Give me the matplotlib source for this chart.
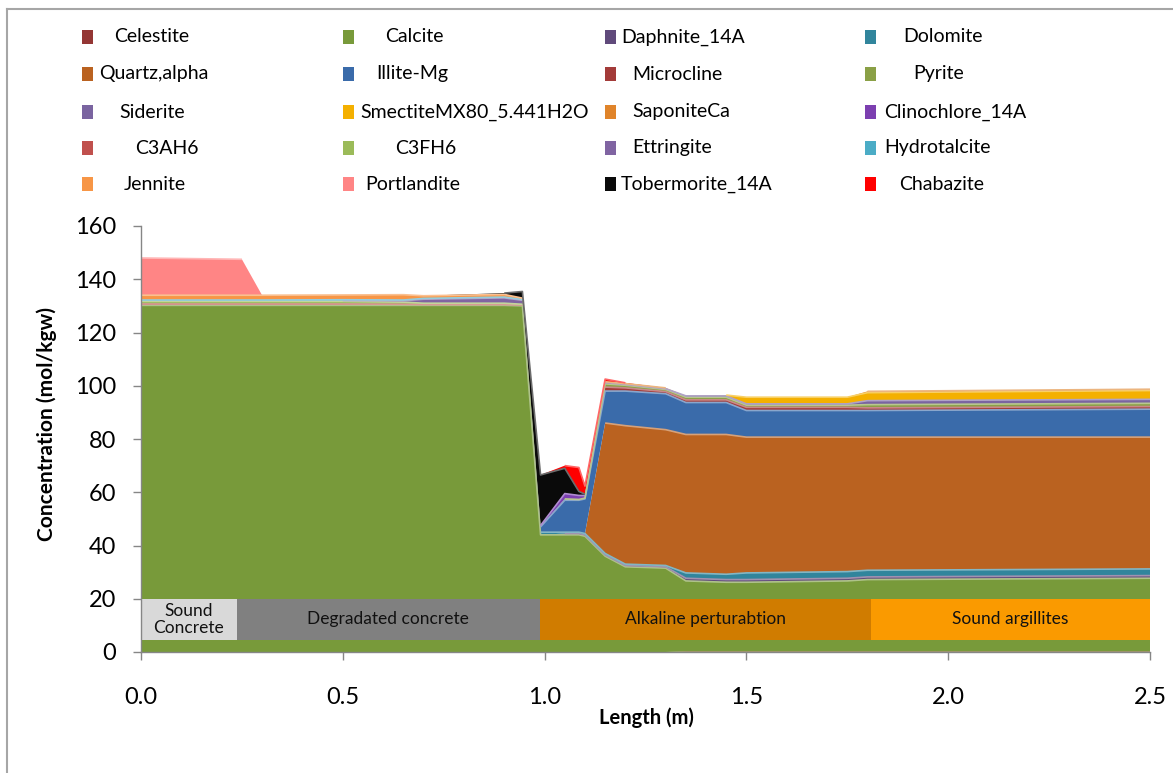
import numpy as np
import matplotlib
matplotlib.use("Agg")
import matplotlib.pyplot as plt
from matplotlib.patches import Rectangle
from matplotlib.lines import Line2D

plt.rcParams['font.family'] = ['Lato', 'DejaVu Sans']

# ---------------- data ----------------
length_m = [0.0, 0.25, 0.30, 0.50, 0.65, 0.70, 0.90, 0.945, 0.99, 1.05, 1.085,
            1.10, 1.15, 1.20, 1.30, 1.35, 1.45, 1.50, 1.75, 1.80, 2.50]

celestite   = [0, 0, 0, 0, 0, 0, 0, 0, 0, 0, 0, 0, 0, 0, 0, 0.2, 0.2, 0.2, 0.2, 0.2, 0.2]
calcite     = [130.2, 130.2, 130.2, 130.2, 130.2, 130.2, 130.2, 130.0, 44, 44, 44,
               43.5, 36, 32, 31.5, 26.5, 26, 26, 26.5, 27, 27.5]
daphnite    = [0, 0, 0, 0, 0, 0, 0, 0, 0, 0.5, 0.5, 0.5, 0.5, 0.5, 0.5, 1, 1, 1, 1, 1, 1]
dolomite    = [0, 0, 0, 0, 0, 0, 0, 0, 1, 0.5, 0.5, 0.5, 0.5, 0.5, 0.5, 2, 2, 2.5, 2.5, 2.5, 2.5]
quartz      = [0, 0, 0, 0, 0, 0, 0, 0, 0, 0, 0, 0, 49, 52, 51, 52, 52.5, 51, 50.5, 50, 49.5]
illite      = [0, 0, 0, 0, 0, 0, 0, 0, 2, 12, 12, 13, 12, 13, 13.5, 12, 12, 10, 10, 10, 10.5]
microcline  = [0, 0, 0, 0, 0, 0, 0, 0, 0, 0, 0, 0, 1.5, 1.2, 0.8, 1, 1, 1.2, 1.2, 1, 1]
pyrite      = [0, 0, 0, 0, 0, 0, 0, 0, 0, 0.5, 0.3, 0.3, 1.2, 1, 0.8, 1, 1, 0.8, 0.8, 1.2, 1.2]
siderite    = [0, 0, 0, 0, 0, 0, 0, 0, 0, 0, 0, 0, 0.5, 0.3, 0.3, 0.5, 0.5, 0.5, 0.5, 1.5, 1.5]
smectite    = [0, 0, 0, 0, 0, 0, 0, 0, 0, 0, 0, 0, 0, 0, 0, 0, 0.3, 2.5, 2.5, 3, 3.3]
saponite    = [0, 0, 0, 0, 0, 0, 0, 0, 0, 0, 0, 0, 0.3, 0.3, 0.3, 0, 0, 0, 0, 0.5, 0.5]
clinochlore = [0, 0, 0, 0, 0, 0, 0, 0, 0.5, 2, 1.5, 1, 0, 0, 0, 0, 0, 0, 0, 0, 0]
c3ah6       = [0.5, 0.5, 0.5, 0.5, 0.4, 0.3, 0.3, 0.3, 0, 0, 0, 0, 0, 0, 0, 0, 0, 0, 0, 0, 0]
c3fh6       = [1, 1, 1, 1, 0.8, 0.5, 0.5, 0.3, 0, 0, 0, 0, 0, 0, 0, 0, 0, 0, 0, 0, 0]
ettringite  = [0.2, 0.2, 0.2, 0.3, 0.5, 1.5, 2, 1.5, 0, 0, 0, 0, 0, 0, 0, 0, 0, 0, 0, 0, 0]
hydrotalcite = [0.3, 0.3, 0.3, 0.3, 0.3, 0.3, 0.3, 0.3, 0, 0, 0, 0, 0, 0, 0, 0, 0, 0, 0, 0, 0]
jennite     = [1.8, 1.8, 1.8, 1.8, 2, 1, 1, 0.5, 0, 0, 0, 0, 0, 0, 0, 0, 0, 0, 0, 0, 0]
portlandite = [14, 13.5, 0, 0, 0, 0, 0, 0, 0, 0, 0, 0, 0, 0, 0, 0, 0, 0, 0, 0, 0]
tobermorite = [0, 0, 0, 0, 0, 0, 0.5, 2.5, 19, 9.5, 1.5, 0.5, 0, 0, 0, 0, 0, 0, 0, 0, 0]
chabazite   = [0, 0, 0, 0, 0, 0, 0, 0, 0, 1.0, 9, 3, 1, 0.3, 0, 0, 0, 0, 0, 0, 0]

mineral_names = ["Celestite", "Calcite", "Daphnite_14A", "Dolomite",
                 "Quartz,alpha", "Illite-Mg", "Microcline", "Pyrite",
                 "Siderite", "SmectiteMX80_5.441H2O", "SaponiteCa", "Clinochlore_14A",
                 "C3AH6", "C3FH6", "Ettringite", "Hydrotalcite",
                 "Jennite", "Portlandite", "Tobermorite_14A", "Chabazite"]
mineral_values = [celestite, calcite, daphnite, dolomite, quartz, illite, microcline,
                  pyrite, siderite, smectite, saponite, clinochlore, c3ah6, c3fh6,
                  ettringite, hydrotalcite, jennite, portlandite, tobermorite, chabazite]
mineral_colors = ["#943634", "#789A3A", "#604A7B", "#31859C",
                  "#BA6220", "#3A6BAA", "#A33B39", "#8AA046",
                  "#7A64A0", "#F4B000", "#E0842A", "#7C3FB0",
                  "#C0504D", "#9BBB59", "#8064A2", "#4BACC6",
                  "#F79646", "#FF8585", "#0A0A0A", "#FF0000"]

zone_edges = [0.0, 0.237, 0.989, 1.809, 2.5]
zone_labels = ["Sound\nConcrete", "Degradated concrete", "Alkaline perturabtion", "Sound argillites"]
zone_colors = ["#D9D9D9", "#808080", "#D07C00", "#FA9A00"]
zone_bottom, zone_top = 4.5, 20

# ---------------- figure ----------------
W, H = 1173, 773
fig = plt.figure(figsize=(W / 100, H / 100), dpi=100)
fig.patch.set_facecolor("white")

def fx(px):
    return px / W

def fy(py):
    return 1 - py / H

ax = fig.add_axes([fx(141), fy(652), fx(1150) - fx(141), fy(226) - fy(652)])

x = np.array(length_m)
ax.stackplot(x, *[np.array(v) for v in mineral_values], colors=mineral_colors,
             linewidth=0, zorder=2)

# light top edge (bevel look)
cum = np.zeros_like(x)
for vals, col in zip(mineral_values, mineral_colors):
    v = np.array(vals, dtype=float)
    top = cum + v
    rgb = np.array(matplotlib.colors.to_rgb(col))
    light = 1 - (1 - rgb) * 0.6
    mask = np.where(v > 0.2, top, np.nan)
    ax.plot(x, mask, color=light, lw=1.2, zorder=3, solid_capstyle='butt')
    cum = top

# zone bands
for i, lab in enumerate(zone_labels):
    x0, x1 = zone_edges[i], zone_edges[i + 1]
    ax.add_patch(Rectangle((x0, zone_bottom), x1 - x0, zone_top - zone_bottom,
                           facecolor=zone_colors[i], edgecolor="none", zorder=5))
    ax.text((x0 + x1) / 2, (zone_bottom + zone_top) / 2, lab, ha="center", va="center",
            fontsize=12.5, color="#111111", zorder=6, linespacing=1.05)

ax.set_xlim(0, 2.5)
ax.set_ylim(0, 160)
ax.set_xticks([0, 0.5, 1.0, 1.5, 2.0, 2.5])
ax.set_xticklabels(["0.0", "0.5", "1.0", "1.5", "2.0", "2.5"])
ax.set_yticks(range(0, 161, 20))
for s in ["top", "right"]:
    ax.spines[s].set_visible(False)
for s in ["left", "bottom"]:
    ax.spines[s].set_color("#868686")
    ax.spines[s].set_linewidth(1.0)
    ax.spines[s].set_zorder(7)
ax.tick_params(axis="both", direction="out", length=6, width=1, color="#868686",
               labelsize=17, labelcolor="black")
ax.tick_params(axis="y", pad=12)
ax.tick_params(axis="x", pad=19)
ax.set_facecolor("white")

fig.text(fx(47), fy(424), "Concentration (mol/kgw)", rotation=90, ha="center", va="center",
         fontsize=15, fontweight="bold")
fig.text(fx(646), fy(718), "Length (m)", ha="center", va="center",
         fontsize=14.5, fontweight="bold")

# legend (manual, Excel style)
marker_x = [87.5, 348, 610, 870]
row_y = [37, 74, 112, 148, 184]
text_x = [[114, 385, 621, 903],
          [99, 376, 632, 913],
          [119, 360, 632, 884],
          [135, 395, 632, 884],
          [124, 365, 621, 899]]
for i, (name, col) in enumerate(zip(mineral_names, mineral_colors)):
    r, c = divmod(i, 4)
    mx, my = marker_x[c], row_y[r]
    fig.add_artist(Rectangle((fx(mx - 5.5), fy(my + 7)), 11 / W, 14 / H,
                             facecolor=col, edgecolor="none", transform=fig.transFigure))
    fig.text(fx(text_x[r][c]), fy(my), name, ha="left", va="center", fontsize=14)

# outer chart border (top and left edges visible)
fig.add_artist(Line2D([fx(7), 1.0], [fy(9), fy(9)], color="#A6A6A6", lw=1.5,
                      transform=fig.transFigure))
fig.add_artist(Line2D([fx(7), fx(7)], [fy(9), 0.0], color="#A6A6A6", lw=1.5,
                      transform=fig.transFigure))

fig.savefig("out.png", dpi=100)
